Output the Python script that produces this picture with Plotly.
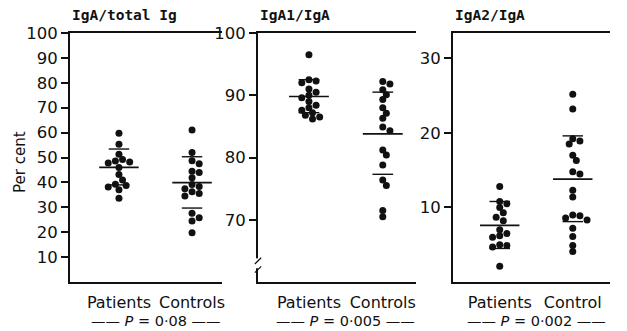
import plotly.graph_objects as go

# ---------------- data ----------------
panel_titles = ["IgA/total Ig", "IgA1/IgA", "IgA2/IgA"]
group_labels = [["Patients", "Controls"], ["Patients", "Controls"], ["Patients", "Control"]]
p_labels = ["0·08", "0·005", "0·002"]

# Panel 1: IgA / total Ig (%)
igA_total_patients = [59.7, 55.3, 51.3, 49.2, 48.6, 48.2, 47.8, 46.0, 43.2, 41.0, 39.3, 38.8, 38.2, 37.0, 33.6]
igA_total_controls = [61.0, 52.0, 48.7, 47.5, 44.5, 44.0, 41.9, 39.2, 38.4, 37.5, 36.2, 35.5, 34.5,
                      27.6, 25.8, 24.5, 19.8]

# Panel 2: IgA1 / IgA (%)
igA1_patients = [96.5, 92.5, 92.3, 92.0, 91.0, 90.5, 90.0, 89.6, 89.0, 88.4, 88.0, 87.6, 87.2, 86.8, 86.5, 86.2]
igA1_controls = [92.2, 91.8, 90.9, 90.1, 89.3, 88.0, 87.1, 86.3, 84.9, 84.3, 81.2, 80.4, 78.8,
                 76.4, 75.5, 71.5, 70.5]

# Panel 3: IgA2 / IgA (%)
igA2_patients = [12.8, 10.8, 10.5, 10.0, 9.3, 8.7, 8.2, 7.0, 6.5, 6.2, 6.0, 5.0, 4.9, 4.7, 2.1]
igA2_controls = [25.2, 23.2, 19.2, 18.9, 18.5, 17.0, 16.3, 14.8, 14.5, 12.3, 11.4, 9.0, 8.9, 8.6, 8.3,
                 7.2, 6.1, 4.9, 4.1]

# means and +/- SD lines [patients, controls]
means = [[46.0, 39.9], [89.8, 83.8], [7.6, 13.8]]
sd_upper = [[53.4, 50.3], [92.5, 90.5], [10.8, 19.6]]
sd_lower = [[39.0, 29.7], [87.2, 77.3], [4.5, 8.1]]

y_ranges = [[0, 100], [60, 100], [0, 33.4]]
y_ticks = [[10, 20, 30, 40, 50, 60, 70, 80, 90, 100], [70, 80, 90, 100], [10, 20, 30]]

groups = [[igA_total_patients, igA_total_controls],
          [igA1_patients, igA1_controls],
          [igA2_patients, igA2_controls]]

# ---------------- layout geometry ----------------
W, H = 627, 331
x_domains = [[70 / W, 222 / W], [258 / W, 416 / W], [453 / W, 610 / W]]
x_ranges = [[-0.67, 1.41], [-0.69, 1.45], [-0.64, 1.51]]
y_domain = [1 - 282 / H, 1 - 33 / H]
plot_h = 249.0
FONT = "DejaVu Sans"
BLACK = "#111111"


def swarm(vals, x0, px_per_x, px_per_y, d=6.5):
    """Deterministic beeswarm offsets (no randomness)."""
    order = sorted(range(len(vals)), key=lambda i: -vals[i])
    placed = []
    xs = [x0] * len(vals)
    for i in order:
        yp = vals[i] * px_per_y
        k = 0
        while True:
            cands = [0.0] if k == 0 else [k * d * 0.55, -k * d * 0.55]
            ok = None
            for c in cands:
                if all((c - px) ** 2 + (yp - py) ** 2 >= (d * 0.9) ** 2 for px, py in placed):
                    ok = c
                    break
            if ok is not None:
                placed.append((ok, yp))
                xs[i] = x0 + ok / px_per_x
                break
            k += 1
    return xs


fig = go.Figure()

for p in range(3):
    xa = "x" if p == 0 else f"x{p + 1}"
    ya = "y" if p == 0 else f"y{p + 1}"
    dom_px = (x_domains[p][1] - x_domains[p][0]) * W
    px_per_x = dom_px / (x_ranges[p][1] - x_ranges[p][0])
    px_per_y = plot_h / (y_ranges[p][1] - y_ranges[p][0])
    for g in range(2):
        vals = groups[p][g]
        xs = swarm(vals, g, px_per_x, px_per_y)
        fig.add_trace(go.Scatter(x=xs, y=vals, mode="markers", xaxis=xa, yaxis=ya,
                                 marker=dict(size=7, color=BLACK), showlegend=False,
                                 hoverinfo="skip"))
        # mean line
        fig.add_trace(go.Scatter(x=[g - 0.27, g + 0.27], y=[means[p][g]] * 2, mode="lines",
                                 xaxis=xa, yaxis=ya, line=dict(color=BLACK, width=1.7),
                                 showlegend=False, hoverinfo="skip"))
        # SD caps
        for v in (sd_upper[p][g], sd_lower[p][g]):
            fig.add_trace(go.Scatter(x=[g - 0.14, g + 0.14], y=[v, v], mode="lines",
                                     xaxis=xa, yaxis=ya, line=dict(color=BLACK, width=1.4),
                                     showlegend=False, hoverinfo="skip"))

    axis_common = dict(showline=True, linecolor=BLACK, linewidth=1.8, showgrid=False,
                       zeroline=False, automargin=False)
    fig.layout[("xaxis" if p == 0 else f"xaxis{p + 1}")] = dict(
        domain=x_domains[p], range=x_ranges[p], tickmode="array", tickvals=[0, 1],
        ticktext=group_labels[p], ticks="", mirror=True, anchor=ya,
        tickfont=dict(family=FONT, size=16, color=BLACK), ticklabelstandoff=5, **axis_common)
    fig.layout[("yaxis" if p == 0 else f"yaxis{p + 1}")] = dict(
        domain=y_domain, range=y_ranges[p], tickmode="array", tickvals=y_ticks[p],
        ticks="outside", ticklen=7, tickwidth=1.5, tickcolor=BLACK, anchor=xa,
        tickfont=dict(family=FONT, size=16.5, color=BLACK), **axis_common)

    # panel title
    fig.add_annotation(text=f"<b>{panel_titles[p]}</b>", xref=f"{xa} domain", yref="paper", x=0,
                       y=1 - 15 / H, xanchor="left", yanchor="middle", showarrow=False,
                       font=dict(family="DejaVu Sans Mono", size=14.5, color=BLACK))
    # P-value label
    fig.add_annotation(text=f"—— <i>P</i> = {p_labels[p]} ——", xref=xa, yref="paper", x=0.5,
                       y=1 - 321 / H, xanchor="center", yanchor="middle", showarrow=False,
                       font=dict(family=FONT, size=14.5, color=BLACK))

# axis break on panel 2
fig.add_shape(type="rect", xref="x2 domain", yref="y2", x0=-0.02, x1=0.02, y0=62.2, y1=63.8,
              fillcolor="white", line=dict(width=0), layer="above")
for yy in (62.0, 63.4):
    fig.add_shape(type="line", xref="x2 domain", yref="y2", x0=-0.02, x1=0.02, y0=yy - 0.5, y1=yy + 0.5,
                  line=dict(color=BLACK, width=1.2), layer="above")

fig.add_annotation(text="Per cent", xref="paper", yref="paper", x=20 / W, y=1 - 162 / H,
                   textangle=-90, showarrow=False, xanchor="center", yanchor="middle",
                   font=dict(family=FONT, size=15, color=BLACK))

fig.update_layout(width=W, height=H, margin=dict(l=0, r=0, t=0, b=0),
                  paper_bgcolor="white", plot_bgcolor="white")

fig.write_html("out.html", config={"displayModeBar": False},
               post_script="document.body.style.margin='0';document.body.style.overflow='hidden';")
